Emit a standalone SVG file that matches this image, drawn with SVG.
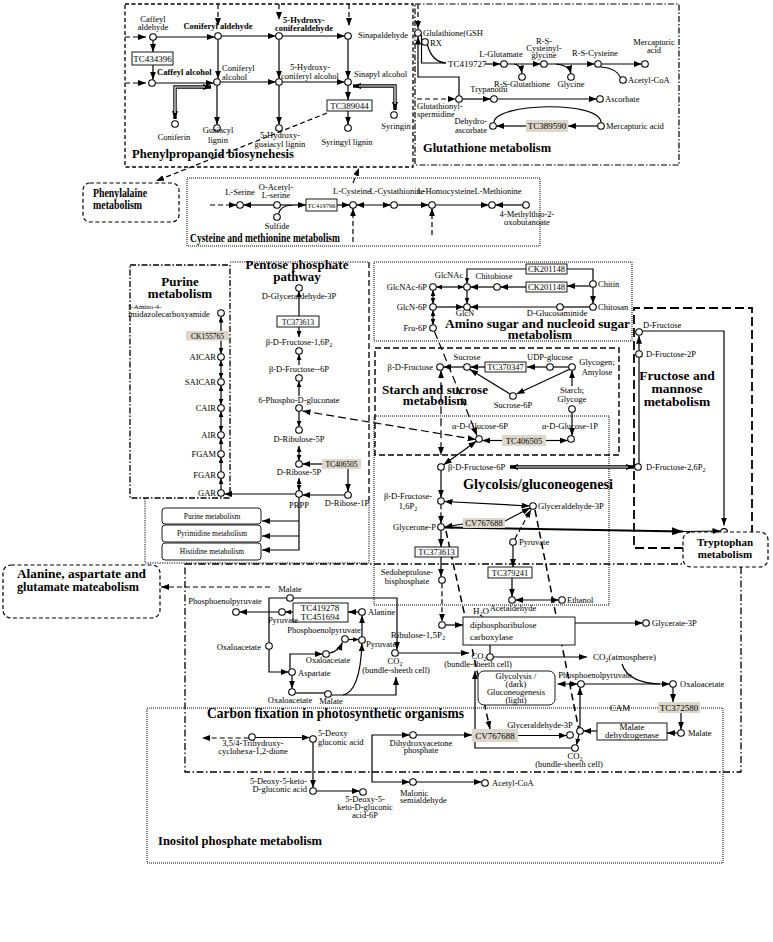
<svg xmlns="http://www.w3.org/2000/svg" width="773" height="942" viewBox="0 0 773 942">
<defs>
<marker id="a" viewBox="0 0 8 6" refX="8" refY="3" markerWidth="8" markerHeight="6" markerUnits="userSpaceOnUse" orient="auto-start-reverse"><path d="M0,0L8,3L0,6z" fill="#000"/></marker>
<marker id="s" viewBox="0 0 6 5" refX="6" refY="2.5" markerWidth="6" markerHeight="5" markerUnits="userSpaceOnUse" orient="auto-start-reverse"><path d="M0,0L6,2.5L0,5z" fill="#000"/></marker>
<marker id="A" viewBox="0 0 11 8" refX="11" refY="4" markerWidth="11" markerHeight="8" markerUnits="userSpaceOnUse" orient="auto-start-reverse"><path d="M0,0L11,4L0,8z" fill="#000"/></marker>
</defs>
<style>
text{font-family:"Liberation Serif","Times New Roman",serif;font-size:8.5px;fill:#000}
circle{fill:#fff;stroke:#000;stroke-width:1.1}
.m{text-anchor:middle}
.e{text-anchor:end}
.b{font-weight:bold}
.f9{font-size:9px}
.f7{font-size:7.5px}
.f6{font-size:6.5px}
.T{font-weight:bold;font-size:13px}
.bx{fill:#fff;stroke:#000;stroke-width:0.9}
.g{fill:#dcd6cb}
.rb{fill:#fff;stroke:#000;stroke-width:0.9}
.d{stroke-dasharray:5,3}
.D{stroke-dasharray:7,4;stroke-width:1.5}
.sub{font-size:6px}
</style>
<rect width="773" height="942" fill="#fff"/>
<g id="all" opacity="0.999">
<g id="regions" fill="none" stroke="#000">
<rect x="125" y="4" width="288" height="163" stroke-width="1.3" stroke-dasharray="4,2.5"/>
<rect x="415" y="4" width="264" height="161" stroke-width="1.2" stroke-dasharray="6,2,1.5,2"/>
<rect x="83" y="183" width="96" height="39" rx="7" stroke-width="1.2" stroke-dasharray="4,2.5"/>
<rect x="187" y="178" width="353" height="68" stroke-width="1" stroke-dasharray="1,1"/>
<rect x="130" y="265" width="100" height="233" stroke-width="1.3" stroke-dasharray="6,2,1.5,2"/>
<path d="M230,262H369M369,500V563H145V498" stroke-width="1" stroke-dasharray="1.2,1.2"/>
<path d="M369,262V500" stroke-width="1.3" stroke-dasharray="6,3"/>
<rect x="374" y="262" width="258" height="79" stroke-width="1" stroke-dasharray="1,1"/>
<rect x="375" y="348" width="244" height="107" stroke-width="1.4" stroke-dasharray="6,3"/>
<path d="M683,548H634V308H752V532" stroke-width="1.8" stroke-dasharray="9,4"/>
<rect x="374" y="416" width="235" height="189" stroke-width="1" stroke-dasharray="1,1"/>
<rect x="3" y="565" width="157" height="53" rx="8" stroke-width="1.2" stroke-dasharray="4,2.5"/>
<path d="M185,564H683M741,567V772H185V564" stroke-width="1.3" stroke-dasharray="7,2.5,1.5,2.5"/>
<rect x="147" y="708" width="576" height="155" stroke-width="1" stroke-dasharray="1,1"/>
</g>

<g id="connectors" fill="none" stroke="#000" stroke-width="1.2">
<path class="d" d="M125,37H146" marker-end="url(#a)"/>
<path class="d" d="M125,83H146" marker-end="url(#a)"/>
<path class="d" d="M218,4V26" marker-end="url(#a)"/>
<path class="d" d="M279,4V20" marker-end="url(#a)"/>
<path class="d" d="M349,4V26" marker-end="url(#a)"/>
<path d="M156.3,37H214.7" marker-end="url(#a)"/>
<path d="M221.3,36H275.7" marker-end="url(#a)"/>
<path d="M282.3,36H344.7" marker-end="url(#a)"/>
<path d="M153,40.3V52" marker-end="url(#a)"/>
<path d="M153,65V79.7" marker-end="url(#a)"/>
<path d="M155.3,83H213.7" marker-end="url(#a)"/>
<path d="M218,39.3V78.7" marker-end="url(#a)"/>
<path d="M279,39.3V78.7" marker-end="url(#a)"/>
<path d="M348,39.3V78.7" marker-end="url(#a)"/>
<path d="M220.3,82H275.7" marker-end="url(#a)"/>
<path d="M282.3,82H344.7" marker-end="url(#a)"/>
<path d="M348,85.3V100" marker-end="url(#a)"/>
<path d="M348,111V124.7" marker-end="url(#a)"/>
<path d="M217,85.3V124.7" marker-end="url(#a)"/>
<path d="M279,85.3V124.7" marker-end="url(#a)"/>
<path d="M211,87H175V119" stroke-width="3.4" marker-start="url(#a)" marker-end="url(#a)"/>
<path d="M205,87H175V113" stroke="#fff" stroke-width="1.2"/>
<path d="M353,86H395V110" stroke-width="3.4" marker-start="url(#a)" marker-end="url(#a)"/>
<path d="M359,86H395V104" stroke="#fff" stroke-width="1.2"/>
<path class="d" d="M327,113L156,181" marker-end="url(#a)"/>
<path class="d" d="M418,4V29" marker-end="url(#a)"/>
<path d="M421.5,35V63H446"/>
<path d="M427.5,45Q432,62 446,63"/>
<path d="M485,64H500.5" marker-end="url(#a)"/>
<path d="M507.3,64H540.7" marker-end="url(#a)"/>
<path d="M514,64Q521,65 522,73.5" marker-end="url(#a)"/>
<path d="M547.3,64H594.7" marker-end="url(#a)"/>
<path d="M556,64Q569,65 571,73.5" marker-end="url(#a)"/>
<path d="M601.3,64H641.7" marker-end="url(#a)"/>
<path d="M601,67Q616,68 620.5,77.5"/>
<path class="d" d="M417,99H455.7" marker-end="url(#a)"/>
<path d="M459,95.7V77H418V36.5" marker-end="url(#a)"/>
<path d="M462.3,99H490.7" marker-end="url(#a)"/>
<path d="M497.3,99H596.7" marker-end="url(#a)"/>
<path d="M494,122.5C494,103 601,100 601,122.7"/>
<path d="M597.7,126H568" marker-end="url(#a)"/>
<path d="M526,126H496.3" marker-end="url(#a)"/>
<path class="d" d="M210,205H236.7" marker-end="url(#a)"/>
<path d="M273.7,205H243.3" marker-end="url(#a)"/>
<path d="M280.3,205H306" marker-end="url(#a)"/>
<path d="M278.5,213.7Q280,206 292,205"/>
<path d="M337,205H349.7" marker-end="url(#a)"/>
<path d="M356.3,205H390.7" marker-start="url(#a)" marker-end="url(#a)"/>
<path d="M397.3,205H428.7" marker-end="url(#a)"/>
<path d="M435.3,205H488.7" marker-end="url(#a)"/>
<path d="M522.7,205H495.3" marker-end="url(#a)"/>
<path class="d" d="M353,242V208.3" marker-end="url(#a)"/>
<path class="d" d="M432,235V208.3" marker-end="url(#a)"/>
<path class="d" d="M353,183L359,168" marker-end="url(#a)"/>
<path d="M221,331V316.5" marker-end="url(#s)"/>
<path d="M221,340.5V353.7" marker-end="url(#s)"/>
<path d="M221,360.3V378.7" marker-start="url(#s)" marker-end="url(#s)"/>
<path d="M221,385.3V404.7" marker-start="url(#s)" marker-end="url(#s)"/>
<path d="M221,411.3V431.7" marker-start="url(#s)" marker-end="url(#s)"/>
<path d="M221,450.7V438.3" marker-end="url(#s)"/>
<path d="M221,471.7V457.3" marker-end="url(#s)"/>
<path d="M221,489.7V478.3" marker-end="url(#s)"/>
<path d="M299,316V291.3" marker-end="url(#s)"/>
<path d="M299,327V337" marker-end="url(#s)"/>
<path d="M299,365V354.3" marker-end="url(#s)"/>
<path d="M299,396V381.3" marker-end="url(#s)"/>
<path d="M299,411.3V426.7" marker-end="url(#s)"/>
<path d="M299,446V460.7" marker-start="url(#s)" marker-end="url(#s)"/>
<path d="M299,478V490.7" marker-start="url(#s)" marker-end="url(#s)"/>
<path d="M322,464H302.3" marker-end="url(#a)"/>
<path d="M348,469V491.7" marker-end="url(#a)"/>
<path d="M344.7,495H302.3" marker-end="url(#a)"/>
<path d="M295.7,494H224.3" marker-end="url(#a)"/>
<path d="M299,497.3V550H262" marker-end="url(#a)"/>
<path d="M299,521H262" marker-end="url(#a)"/>
<path d="M299,536H262" marker-end="url(#a)"/>
<path d="M302.5,411L475.7,439.5" stroke-dasharray="8,4" marker-start="url(#a)" marker-end="url(#a)"/>
<path d="M593,280.7V269H567"/>
<path d="M526,269H467V283.5" marker-end="url(#s)"/>
<path d="M589.7,286H567" marker-end="url(#a)"/>
<path d="M526,287H500.3" marker-end="url(#a)"/>
<path d="M493.7,287H470.3" marker-end="url(#a)"/>
<path d="M463.7,287H436.3" marker-start="url(#s)" marker-end="url(#s)"/>
<path d="M433,290.3V303.7" marker-start="url(#s)" marker-end="url(#s)"/>
<path d="M467,290.3V303.7" marker-end="url(#s)"/>
<path d="M433,310.3V324.7" marker-start="url(#s)" marker-end="url(#s)"/>
<path d="M593,287.3V303.7" marker-end="url(#a)"/>
<path d="M589.7,307H563.3"/>
<path d="M556.7,307H470.3" marker-end="url(#a)"/>
<path d="M436.3,307H463.7" marker-end="url(#a)"/>
<path d="M434.5,331.5L477,435.5" stroke-dasharray="8,4" marker-end="url(#a)"/>
<path d="M463.7,367H443.3" marker-end="url(#a)"/>
<path d="M485,367H470.3" marker-end="url(#a)"/>
<path d="M546.7,367H527" marker-end="url(#a)"/>
<path d="M553.3,367H568.7"/>
<path d="M569,369.5L516.5,394" marker-end="url(#a)"/>
<path d="M510,394L470,369.5" marker-end="url(#a)"/>
<path d="M572,386V370.3" marker-end="url(#a)"/>
<path d="M572,412.3V435.7" marker-end="url(#a)"/>
<path d="M502,440.5H482.3" marker-end="url(#a)"/>
<path d="M546,440.5H567.7" marker-end="url(#a)"/>
<path d="M441,370.3V455" stroke-dasharray="8,4" marker-start="url(#a)" marker-end="url(#a)"/>
<path d="M476.3,441.3L443.7,464.7" marker-start="url(#a)" marker-end="url(#a)"/>
<path d="M639,463.7V357.3"/>
<path d="M639,350.7V335.7" marker-end="url(#a)"/>
<path d="M642.3,331H724V525.5" marker-end="url(#a)"/>
<path d="M510,467H634" stroke-width="3.4" marker-start="url(#a)" marker-end="url(#a)"/>
<path d="M516,467H628" stroke="#fff" stroke-width="1.2"/>
<path d="M441,470.3V497.7" marker-end="url(#a)"/>
<path d="M444.5,501.5L529.5,506" marker-start="url(#a)" marker-end="url(#a)"/>
<path class="d" d="M441,504.3V523.7" marker-end="url(#a)"/>
<path d="M463,524L444.5,527" marker-end="url(#a)"/>
<path d="M505,521L530,508" marker-end="url(#a)"/>
<path d="M444.3,527.5L683,531.5" stroke-width="2" marker-end="url(#A)"/>
<path d="M683,531.5L720.5,531" marker-end="url(#a)"/>
<path d="M441,530.3V547" marker-end="url(#a)"/>
<path d="M441,557V576.7" marker-end="url(#a)"/>
<path class="d" d="M442,583.3V621.7" marker-end="url(#a)"/>
<path class="d" d="M515,538.7L531,509.5" marker-end="url(#a)"/>
<path d="M513,545.3V567" marker-end="url(#a)"/>
<path d="M512,578V596.7" marker-end="url(#a)"/>
<path d="M515.3,600H558.7" marker-start="url(#a)" marker-end="url(#a)"/>
<path class="D" d="M446,531L490,729" marker-end="url(#a)"/>
<path class="D" d="M535,510L578.5,728"/>
<path d="M293.3,598H397V649.7" marker-end="url(#a)"/>
<path d="M358.7,612H348" marker-end="url(#a)"/>
<path d="M293,612H285.3" marker-end="url(#s)"/>
<path d="M278.7,612H239.3" marker-end="url(#a)"/>
<path d="M286.7,598H269V642.7"/>
<path d="M269,649.3V672H288.7" marker-end="url(#a)"/>
<path d="M290,668.7V654H322.7" marker-end="url(#a)"/>
<path d="M329.3,653Q338,652 342.5,642.5" marker-end="url(#a)"/>
<path d="M348.3,639.5H358.7" marker-end="url(#s)"/>
<path d="M362,636.7V615.3" marker-end="url(#a)"/>
<path d="M292,675.3V688.7" marker-end="url(#a)"/>
<path d="M295.3,693H324.7"/>
<path d="M331.3,695H396V677" marker-end="url(#a)"/>
<path d="M343,695Q360,692 362,643.3" marker-end="url(#a)"/>
<path d="M398.3,653H469" marker-end="url(#a)"/>
<path class="d" d="M270,587H161" marker-end="url(#a)"/>
<path d="M445.3,625H463" marker-end="url(#a)"/>
<path d="M575,623H642.7" marker-end="url(#a)"/>
<path d="M480,615L486,619" stroke-width="0.8"/>
<path d="M490,645V653.7"/>
<path d="M493.3,657H587" marker-end="url(#a)"/>
<path d="M571.7,748H475V671" marker-end="url(#a)"/>
<path class="d" d="M557.5,684H577.7" marker-start="url(#a)" marker-end="url(#a)"/>
<path d="M584.3,684H669.7" marker-end="url(#a)"/>
<path d="M622,664Q628,683 660,684"/>
<path d="M673,687.3V702" marker-end="url(#a)"/>
<path d="M681,713V729.7" marker-end="url(#a)"/>
<path d="M677.7,733H667" marker-end="url(#a)"/>
<path d="M597,731H583.3" marker-end="url(#a)"/>
<path d="M580,727.7V687.3" marker-end="url(#a)"/>
<path d="M579,734.3L576.5,744.7" marker-end="url(#s)"/>
<path d="M518,735.5H566.7" marker-end="url(#a)"/>
<path d="M416.3,735H472" marker-end="url(#a)"/>
<path class="d" d="M248.7,738H202" marker-end="url(#a)"/>
<path d="M255.3,737.5H309.7" marker-end="url(#a)"/>
<path d="M313,742.3V787.7" marker-end="url(#a)"/>
<path d="M316.3,791H359.7" marker-end="url(#a)"/>
<path d="M409.7,735H372V782H409.7" marker-start="url(#a)" marker-end="url(#a)"/>
<path d="M416.3,782H481.7" marker-end="url(#a)"/>
</g>

<g id="nodes">
<g id="caffald" class="f9"><circle cx="153" cy="37" r="3.3"/><text x="153" y="22" class="m">Caffeyl</text><text x="153" y="30" class="m">aldehyde</text></g>
<g id="conald" class="f9"><circle cx="218" cy="36" r="3.3"/><text x="218" y="29" class="m b">Coniferyl aldehyde</text></g>
<g id="hcald" class="f9"><circle cx="279" cy="36" r="3.3"/><text x="304" y="23" class="m b">5-Hydroxy-</text><text x="304" y="31" class="m b">coniferaldehyde</text></g>
<g id="sinald" class="f9"><circle cx="348" cy="36" r="3.3"/><text x="358" y="38">Sinapaldehyde</text></g>
<g id="tc434396"><rect class="bx" x="132" y="52" width="41" height="13"/><text x="152.5" y="61.5" class="m f9">TC434396</text></g>
<g id="caffalc" class="f9"><circle cx="152" cy="83" r="3.3"/><text x="157" y="75" class="b">Caffeyl alcohol</text></g>
<g id="conalc" class="f9"><circle cx="217" cy="82" r="3.3"/><text x="222" y="71">Coniferyl</text><text x="222" y="80">alcohol</text></g>
<g id="hcalc" class="f9"><circle cx="279" cy="82" r="3.3"/><text x="310" y="70" class="m">5-Hydroxy-</text><text x="310" y="79" class="m">coniferyl alcohol</text></g>
<g id="sinalc" class="f9"><circle cx="348" cy="82" r="3.3"/><text x="354" y="77">Sinapyl alcohol</text></g>
<g id="tc389044"><rect class="bx" x="327" y="100" width="45" height="11"/><text x="349.5" y="108.5" class="m f9">TC389044</text></g>
<g id="coniferin" class="f9"><circle cx="175" cy="124" r="3.3"/><text x="174" y="140" class="m">Coniferin</text></g>
<g id="guaiacyl" class="f9"><circle cx="217" cy="128" r="3.3"/><text x="218" y="133" class="m">Guaiacyl</text><text x="218" y="143" class="m">lignin</text></g>
<g id="hglig" class="f9"><circle cx="279" cy="128" r="3.3"/><text x="280" y="138" class="m">5-Hydroxy-</text><text x="280" y="147" class="m">guaiacyl lignin</text></g>
<g id="syrlig" class="f9"><circle cx="348" cy="128" r="3.3"/><text x="347" y="145" class="m">Syringyl lignin</text></g>
<g id="syringin" class="f9"><circle cx="394" cy="115" r="3.3"/><text x="396" y="129" class="m">Syringin</text></g>
<g id="gsh" class="f9"><circle cx="418" cy="33" r="3.3"/><text x="423" y="36">Glulathione(GSH</text></g>
<g id="rx" class="f9"><circle cx="425" cy="42" r="3.3"/><text x="430" y="46">RX</text></g>
<g id="tc419727"><text x="448" y="67" class="f9">TC419727</text></g>
<g id="glut" class="f9"><circle cx="504" cy="64" r="3.3"/><text x="501" y="57" class="m">L-Glutamate</text></g>
<g id="rsgsh" class="f9"><circle cx="522" cy="77" r="3.3"/><text x="522" y="87" class="m">R-S-Glutathione</text></g>
<g id="rscg" class="f9"><circle cx="544" cy="64" r="3.3"/><text x="544" y="44" class="m">R-S-</text><text x="544" y="51" class="m">Cysteinyl-</text><text x="544" y="58" class="m">glycine</text></g>
<g id="glycine" class="f9"><circle cx="571" cy="77" r="3.3"/><text x="571" y="87" class="m">Glycine</text></g>
<g id="rscys" class="f9"><circle cx="598" cy="64" r="3.3"/><text x="595" y="56" class="m">R-S-Cysteine</text></g>
<g id="merc1" class="f9"><circle cx="645" cy="64" r="3.3"/><text x="654" y="45" class="m">Mercapturic</text><text x="654" y="53" class="m">acid</text></g>
<g id="accoa1" class="f9"><circle cx="623" cy="80" r="3.3"/><text x="628" y="83">Acetyl-CoA</text></g>
<g id="glsp" class="f9"><circle cx="459" cy="99" r="3.3"/><text x="417" y="109">Glutathionyl-</text><text x="417" y="117">spermidine</text></g>
<g id="trypanothi" class="f9"><circle cx="494" cy="99" r="3.3"/><text x="489" y="92" class="m">Trypanothi</text></g>
<g id="ascorbate" class="f9"><circle cx="600" cy="99" r="3.3"/><text x="605" y="102">Ascorbate</text></g>
<g id="merc2" class="f9"><circle cx="601" cy="126" r="3.3"/><text x="606" y="129">Mercapturic acid</text></g>
<g id="dehydro" class="f9"><circle cx="493" cy="126" r="3.3"/><text x="487" y="124" class="e">Dehydro-</text><text x="487" y="133" class="e">ascorbate</text></g>
<g id="tc389590"><rect class="g" x="526" y="120" width="42" height="12"/><text x="547" y="129" class="m f9">TC389590</text></g>
<g id="lser" class="f6"><circle cx="240" cy="205" r="3.3"/><text x="240" y="195" class="m">L-Serine</text></g>
<g id="oacser" class="f6"><circle cx="277" cy="205" r="3.3"/><text x="276" y="190" class="m">O-Acetyl-</text><text x="276" y="198" class="m">L-serine</text></g>
<g id="sulfide" class="f6"><circle cx="277" cy="217" r="3.3"/><text x="277" y="229" class="m">Sulfide</text></g>
<g id="tc419796"><rect class="bx" x="306" y="199" width="31" height="12"/><text x="321.5" y="208" class="m" style="font-size:6.5px">TC419796</text></g>
<g id="lcys" class="f6"><circle cx="353" cy="205" r="3.3"/><text x="352" y="194" class="m">L-Cysteine</text></g>
<g id="lcysta" class="f6"><circle cx="394" cy="205" r="3.3"/><text x="397" y="194" class="m">L-Cystathionine</text></g>
<g id="lhcys" class="f6"><circle cx="432" cy="205" r="3.3"/><text x="446" y="194" class="m">L-Homocysteine</text></g>
<g id="lmet" class="f6"><circle cx="492" cy="205" r="3.3"/><text x="498" y="194" class="m">L-Methionine</text></g>
<g id="mtob" class="f6"><circle cx="526" cy="205" r="3.3"/><text x="527" y="217" class="m">4-Methylthio-2-</text><text x="527" y="225" class="m">oxobutanoate</text></g>
<g id="aica" class="f7"><circle cx="221" cy="313" r="3.3"/><text x="128" y="309" style="font-size:7px">5-Amino-4-</text><text x="128" y="317">imidazolecarboxyamide</text></g>
<g id="ck155765"><rect class="g" x="186" y="331" width="43" height="9.5"/><text x="207.5" y="338.5" class="m f7">CK155765</text></g>
<g id="aicar" class="f7"><circle cx="221" cy="357" r="3.3"/><text x="216" y="360" class="e">AICAR</text></g>
<g id="saicar" class="f7"><circle cx="221" cy="382" r="3.3"/><text x="216" y="385" class="e">SAICAR</text></g>
<g id="cair" class="f7"><circle cx="221" cy="408" r="3.3"/><text x="216" y="411" class="e">CAIR</text></g>
<g id="air" class="f7"><circle cx="221" cy="435" r="3.3"/><text x="216" y="438" class="e">AIR</text></g>
<g id="fgam" class="f7"><circle cx="221" cy="454" r="3.3"/><text x="216" y="457" class="e">FGAM</text></g>
<g id="fgar" class="f7"><circle cx="221" cy="475" r="3.3"/><text x="216" y="478" class="e">FGAR</text></g>
<g id="gar" class="f7"><circle cx="221" cy="493" r="3.3"/><text x="216" y="496" class="e">GAR</text></g>
<g id="glyald" class="f7"><circle cx="299" cy="288" r="3.3"/><text x="299" y="299" class="m">D-Glyceraldehyde-3P</text></g>
<g id="tc373613a"><rect class="bx" x="277" y="316" width="42" height="11"/><text x="298" y="324.5" class="m f7">TC373613</text></g>
<g id="f16p" class="f7"><circle cx="299" cy="351" r="3.3"/><text x="299" y="345" class="m">β-D-Fructose-1,6P<tspan class="sub" dy="2">2</tspan></text></g>
<g id="f6p" class="f7"><circle cx="299" cy="378" r="3.3"/><text x="299" y="372" class="m">β-D-Fructose--6P</text></g>
<g id="pg6" class="f7"><circle cx="299" cy="408" r="3.3"/><text x="299" y="403" class="m">6-Phospho-D-gluconate</text></g>
<g id="ru5p" class="f7"><circle cx="299" cy="430" r="3.3"/><text x="299" y="442" class="m">D-Ribulose-5P</text></g>
<g id="r5p" class="f7"><circle cx="299" cy="464" r="3.3"/><text x="299" y="475" class="m">D-Ribose-5P</text></g>
<g id="tc406505a"><rect class="g" x="322" y="459" width="39" height="10"/><text x="341.5" y="467" class="m f7">TC406505</text></g>
<g id="r1p" class="f7"><circle cx="348" cy="495" r="3.3"/><text x="347" y="506" class="m">D-Ribose-1P</text></g>
<g id="prpp" class="f7"><circle cx="299" cy="494" r="3.3"/><text x="299" y="508" class="m">PRPP</text></g>
<g id="purmet"><rect class="rb" x="162" y="508" width="99" height="16" rx="3"/><text x="212" y="519" class="m f7">Purine metabolism</text></g>
<g id="pyrmet"><rect class="rb" x="162" y="525" width="99" height="17" rx="3"/><text x="212" y="536" class="m f7">Pyrimidine metabolism</text></g>
<g id="hismet"><rect class="rb" x="162" y="543" width="99" height="17" rx="3"/><text x="212" y="554" class="m f7">Histidine metabolism</text></g>
<g id="ck201148a"><rect class="bx" x="526" y="264" width="41" height="10"/><text x="546.5" y="272" class="m">CK201148</text></g>
<g id="ck201148b"><rect class="bx" x="526" y="282" width="41" height="10"/><text x="546.5" y="290" class="m">CK201148</text></g>
<g id="glcnac"><circle cx="467" cy="287" r="3.3"/><text x="449" y="278" class="m">GlcNAc</text></g>
<g id="chitobiose"><circle cx="497" cy="287" r="3.3"/><text x="494" y="279" class="m">Chitobiose</text></g>
<g id="chitin"><circle cx="593" cy="284" r="3.3"/><text x="598" y="287">Chitin</text></g>
<g id="chitosan"><circle cx="593" cy="307" r="3.3"/><text x="598" y="310">Chitosan</text></g>
<g id="glcnac6p"><circle cx="433" cy="287" r="3.3"/><text x="427" y="290" class="e">GlcNAc-6P</text></g>
<g id="glcn6p"><circle cx="433" cy="307" r="3.3"/><text x="427" y="310" class="e">GlcN-6P</text></g>
<g id="fru6p"><circle cx="433" cy="328" r="3.3"/><text x="427" y="331" class="e">Fru-6P</text></g>
<g id="glcn"><circle cx="467" cy="307" r="3.3"/><text x="465" y="316" class="m">GlcN</text></g>
<g id="dglucos"><circle cx="560" cy="307" r="3.3"/><text x="557" y="316" class="m">D-Glucosaminide</text></g>
<g id="bfru"><circle cx="440" cy="367" r="3.3"/><text x="433" y="370" class="e">β-D-Fructose</text></g>
<g id="sucrose"><circle cx="467" cy="367" r="3.3"/><text x="467" y="360" class="m">Sucrose</text></g>
<g id="tc370347"><rect class="bx" x="485" y="362" width="41" height="10"/><text x="505.5" y="370" class="m">TC370347</text></g>
<g id="udpg"><circle cx="550" cy="367" r="3.3"/><text x="550" y="360" class="m">UDP-glucose</text></g>
<g id="glycogen"><circle cx="572" cy="367" r="3.3"/><text x="597" y="365" class="m">Glycogen;</text><text x="597" y="375" class="m">Amylose</text></g>
<g id="suc6p"><circle cx="513" cy="396" r="3.3"/><text x="513" y="408" class="m">Sucrose-6P</text></g>
<g id="starch"><circle cx="572" cy="409" r="3.3"/><text x="572" y="393" class="m">Starch;</text><text x="572" y="402" class="m">Glycoge</text></g>
<g id="g1p"><circle cx="571" cy="439" r="3.3"/><text x="570" y="429" class="m">α-D-Glucose-1P</text></g>
<g id="g6p"><circle cx="479" cy="439" r="3.3"/><text x="480" y="429" class="m">α-D-Glucose-6P</text></g>
<g id="tc406505b"><rect class="g" x="502" y="435" width="44" height="11"/><text x="524" y="443.5" class="m">TC406505</text></g>
<g id="dfru"><circle cx="639" cy="332" r="3.3"/><text x="643" y="328">D-Fructose</text></g>
<g id="dfru2p"><circle cx="639" cy="354" r="3.3"/><text x="646" y="357">D-Fructose-2P</text></g>
<g id="dfru26"><circle cx="638" cy="467" r="3.3"/><text x="646" y="470">D-Fructose-2,6P<tspan class="sub" dy="2">2</tspan></text></g>
<g id="bf6p"><circle cx="441" cy="467" r="3.3"/><text x="448" y="470">β-D-Fructose-6P</text></g>
<g id="bf16p"><circle cx="441" cy="501" r="3.3"/><text x="408" y="499" class="m">β-D-Fructose-</text><text x="408" y="509" class="m">1,6P<tspan class="sub" dy="2">2</tspan></text></g>
<g id="g3p"><circle cx="533" cy="506" r="3.3"/><text x="538" y="509">Glyceraldehyde-3P</text></g>
<g id="glycerone"><circle cx="441" cy="527" r="3.3"/><text x="436" y="530" class="e">Glycerone-P</text></g>
<g id="cv767688a"><rect class="g" x="463" y="518" width="42" height="10"/><text x="484" y="526" class="m">CV767688</text></g>
<g id="pyruvate"><circle cx="513" cy="542" r="3.3"/><text x="519" y="545">Pyruvate</text></g>
<g id="tc373613b"><rect class="bx" x="415" y="547" width="43" height="10"/><text x="436.5" y="555" class="m">TC373613</text></g>
<g id="sedo"><circle cx="442" cy="580" r="3.3"/><text x="407" y="575" class="m">Sedoheptulose-</text><text x="407" y="584" class="m">bisphosphate</text></g>
<g id="ribulose"><circle cx="442" cy="625" r="3.3"/><text x="418" y="638" class="m f9">Ribulose-1,5P<tspan class="sub" dy="2">2</tspan></text></g>
<g id="tc379241"><rect class="bx" x="488" y="567" width="44" height="11"/><text x="510" y="575.5" class="m">TC379241</text></g>
<g id="acetald"><circle cx="512" cy="600" r="3.3"/><text x="513" y="611" class="m">Acetaldehyde</text></g>
<g id="ethanol"><circle cx="562" cy="600" r="3.3"/><text x="567" y="603">Ethanol</text></g>
<g id="tryptophan"><path d="M720.7,532A3.4,3.4 0 0 1 727.5,532" fill="#fff" stroke="#000" stroke-width="1.1"/><rect x="683" y="532" width="85" height="35" rx="8" fill="none" stroke="#000" stroke-width="1.2" stroke-dasharray="4,2.5"/><text x="725" y="546" class="m b" style="font-size:11px">Tryptophan</text><text x="725" y="558" class="m b" style="font-size:11px">metabolism</text></g>
<g id="malate1" class="f9"><circle cx="290" cy="598" r="3.3"/><text x="290" y="592" class="m">Malate</text></g>
<g id="tc419278"><rect class="bx" x="293" y="603" width="55" height="19"/><text x="320" y="611" class="m f9">TC419278</text><text x="320" y="620" class="m f9">TC451694</text></g>
<g id="alanine" class="f9"><circle cx="362" cy="612" r="3.3"/><text x="368" y="615">Alanine</text></g>
<g id="pyr1" class="f9"><circle cx="282" cy="612" r="3.3"/><text x="283" y="623" class="m">Pyruvate</text></g>
<g id="pep1" class="f9"><circle cx="236" cy="612" r="3.3"/><text x="225" y="604" class="m">Phosphoenolpyruvate</text></g>
<g id="oaa1" class="f9"><circle cx="269" cy="646" r="3.3"/><text x="261" y="650" class="e">Oxaloacetate</text></g>
<g id="aspartate" class="f9"><circle cx="292" cy="672" r="3.3"/><text x="298" y="676">Aspartate</text></g>
<g id="oaa2" class="f9"><circle cx="326" cy="654" r="3.3"/><text x="328" y="663" class="m">Oxaloacetate</text></g>
<g id="pep2" class="f9"><circle cx="345" cy="639" r="3.3"/><text x="324" y="633" class="m">Phosphoenolpyruvate</text></g>
<g id="pyr2" class="f9"><circle cx="362" cy="640" r="3.3"/><text x="366" y="647">Pyruvate</text></g>
<g id="oaa3" class="f9"><circle cx="292" cy="692" r="3.3"/><text x="290" y="703" class="m">Oxaloacetate</text></g>
<g id="malate2" class="f9"><circle cx="328" cy="694" r="3.3"/><text x="331" y="704" class="m">Malate</text></g>
<g id="co2a" class="f9"><circle cx="395" cy="653" r="3.3"/><text x="395" y="664" class="m">CO<tspan class="sub" dy="2">2</tspan></text><text x="396" y="673" class="m">(bundle-sheeth cell)</text></g>
<g id="h2o"><text x="473" y="614" class="f9">H<tspan class="sub" dy="2">2</tspan><tspan dy="-2">O</tspan></text></g>
<g id="rubisco"><rect class="bx" x="463" y="617" width="112" height="28"/><text x="470" y="628" class="f9">diphosphoribulose</text><text x="470" y="640" class="f9">carboxylase</text></g>
<g id="glycerate" class="f9"><circle cx="646" cy="623" r="3.3"/><text x="652" y="626">Glycerate-3P</text></g>
<g id="co2b" class="f9"><circle cx="490" cy="657" r="3.3"/><text x="479" y="659" class="m">CO<tspan class="sub" dy="2">2</tspan></text><text x="478" y="667" class="m">(bundle-sheeth cell)</text></g>
<g id="co2atm"><text x="593" y="660" class="f9">CO<tspan class="sub" dy="2">2</tspan><tspan dy="-2">(atmosphere)</tspan></text></g>
<g id="glyco-box"><rect class="rb" x="478" y="671" width="77" height="34" rx="6"/><text x="516" y="679" class="m">Glycolysis /</text><text x="516" y="687" class="m">(dark)</text><text x="516" y="695" class="m">Gluconeogenesis</text><text x="516" y="703" class="m">(light)</text></g>
<g id="pep3" class="f9"><circle cx="581" cy="684" r="3.3"/><text x="595" y="678" class="m">Phosphoenolpyruvate</text></g>
<g id="oaa4" class="f9"><circle cx="673" cy="684" r="3.3"/><text x="680" y="687">Oxaloacetate</text></g>
<g id="tc372580"><rect class="g" x="658" y="702" width="42" height="11"/><text x="679" y="710.5" class="m f9">TC372580</text></g>
<g id="malate3" class="f9"><circle cx="681" cy="733" r="3.3"/><text x="688" y="736">Malate</text></g>
<g id="mdh"><rect class="bx" x="597" y="723" width="70" height="17"/><text x="632" y="730" class="m f9">Malate</text><text x="632" y="738" class="m f9">dehydrogenase</text></g>
<g id="split"><circle cx="580" cy="731" r="3.3"/></g>
<g id="g3p2" class="f9"><circle cx="570" cy="735" r="3.3"/><text x="540" y="728" class="m">Glyceraldehyde-3P</text></g>
<g id="co2c" class="f9"><circle cx="575" cy="748" r="3.3"/><text x="575" y="759" class="m">CO<tspan class="sub" dy="2">2</tspan></text><text x="569" y="767" class="m">(bundle-sheeth cell)</text></g>
<g id="cam"><text x="620" y="711" class="m f9">CAM</text></g>
<g id="cv767688b"><rect class="g" x="472" y="729" width="46" height="13"/><text x="495" y="738.5" class="m f9">CV767688</text></g>
<g id="thcd" class="f9"><circle cx="252" cy="737" r="3.3"/><text x="253" y="746" class="m">3,5/4-Trihydroxy-</text><text x="253" y="754" class="m">cyclohexa-1,2-dione</text></g>
<g id="dga" class="f9"><circle cx="313" cy="739" r="3.3"/><text x="318" y="736">5-Deoxy</text><text x="318" y="745">gluconic acid</text></g>
<g id="dkga" class="f9"><circle cx="313" cy="791" r="3.3"/><text x="307" y="784" class="e">5-Deoxy-5-keto-</text><text x="307" y="792" class="e">D-gluconic acid</text></g>
<g id="dkga6p" class="f9"><circle cx="363" cy="792" r="3.3"/><text x="365" y="802" class="m">5-Deoxy-5-</text><text x="365" y="810" class="m">keto-D-gluconic</text><text x="365" y="818" class="m">acid-6P</text></g>
<g id="dhap" class="f9"><circle cx="413" cy="735" r="3.3"/><text x="421" y="746" class="m">Dihydroxyacetone</text><text x="421" y="753" class="m">phosphate</text></g>
<g id="malonic" class="f9"><circle cx="413" cy="782" r="3.3"/><text x="400" y="796">Malonic</text><text x="400" y="803">semialdehyde</text></g>
<g id="accoa2" class="f9"><circle cx="485" cy="783" r="3.3"/><text x="492" y="786">Acetyl-CoA</text></g>
</g>

<g id="titles">
<text class="T" x="132" y="158" textLength="162" lengthAdjust="spacingAndGlyphs">Phenylpropanoid biosynehesis</text>
<text class="T" x="423" y="152" textLength="128" lengthAdjust="spacingAndGlyphs">Glutathione metabolism</text>
<text class="T" x="93" y="197" style="font-size:12px" textLength="54" lengthAdjust="spacingAndGlyphs">Phenylalaine</text>
<text class="T" x="93" y="209" style="font-size:12px" textLength="49" lengthAdjust="spacingAndGlyphs">metabolism</text>
<text class="T" x="190" y="242" style="font-size:11.5px" textLength="150" lengthAdjust="spacingAndGlyphs">Cysteine and methionine metabolism</text>
<text class="T m" x="180" y="286">Purine</text>
<text class="T m" x="180" y="298">metabolism</text>
<text class="T m" x="297" y="269">Pentose phosphate</text>
<text class="T m" x="297" y="281">pathway</text>
<text class="T" x="445" y="328" textLength="185" lengthAdjust="spacingAndGlyphs">Amino sugar and nucleoid sugar</text>
<text class="T m" x="540" y="339">metabolism</text>
<text class="T" x="382" y="394" textLength="106" lengthAdjust="spacingAndGlyphs">Starch and sucrose</text>
<text class="T m" x="435" y="405">metabolism</text>
<text class="T m" x="677" y="380" style="font-size:13.5px">Fructose and</text>
<text class="T m" x="677" y="393" style="font-size:13.5px">mannose</text>
<text class="T m" x="677" y="406" style="font-size:13.5px">metabolism</text>
<text class="T" x="463" y="489" style="font-size:14px" textLength="150" lengthAdjust="spacingAndGlyphs">Glycolsis/gluconeogenesi</text>
<text class="T" x="17" y="578" style="font-size:12.5px" textLength="129" lengthAdjust="spacingAndGlyphs">Alanine, aspartate and</text>
<text class="T" x="17" y="591" style="font-size:12.5px" textLength="122" lengthAdjust="spacingAndGlyphs">glutamate mateabolism</text>
<text class="T" x="207" y="718" style="font-size:14px" textLength="257" lengthAdjust="spacingAndGlyphs">Carbon fixation in  photosynthetic organisms</text>
<text class="T" x="158" y="845" textLength="164" lengthAdjust="spacingAndGlyphs">Inositol phosphate metabolism</text>
</g>
</g>
</svg>
